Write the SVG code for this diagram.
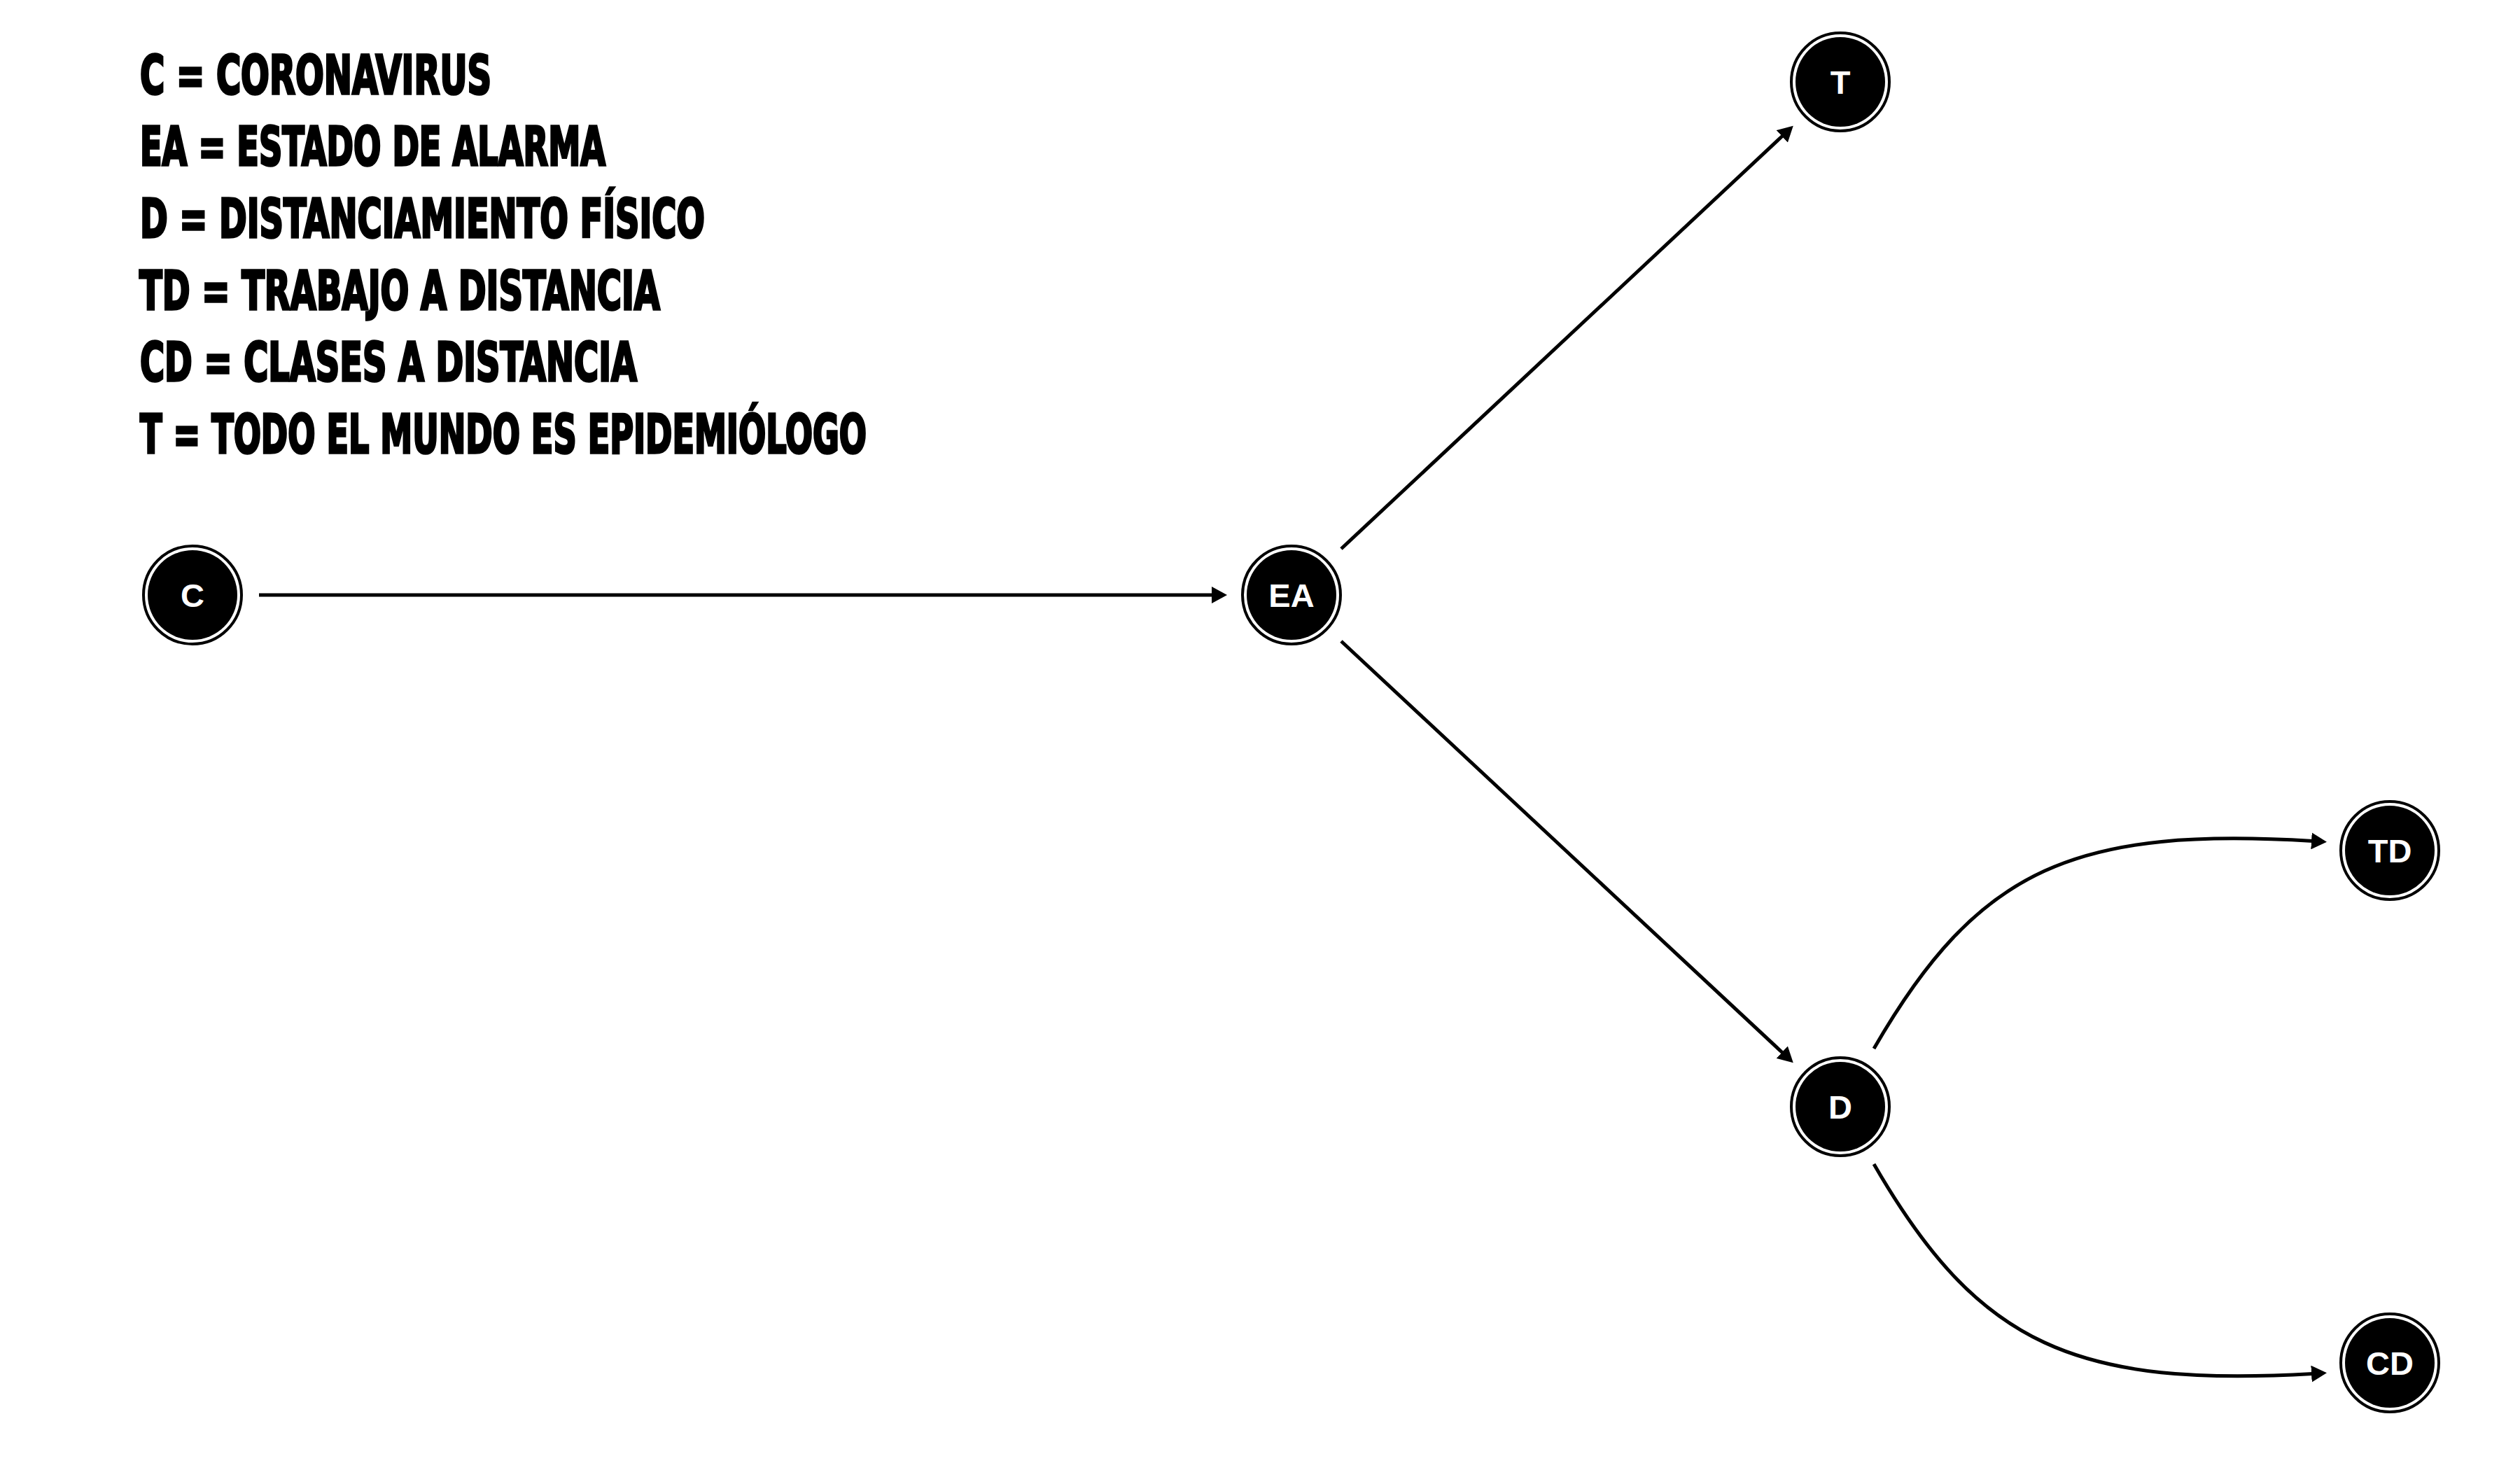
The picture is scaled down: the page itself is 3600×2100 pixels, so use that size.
<svg xmlns="http://www.w3.org/2000/svg" width="3600" height="2100" viewBox="0 0 3600 2100">
<style>
.legend{font-family:"Liberation Sans Narrow","DejaVu Sans Condensed","Liberation Sans",sans-serif;font-weight:bold;font-size:77px;fill:#000;stroke:#000;stroke-width:3.5px;stroke-linejoin:miter}
.ring{fill:none;stroke:#000;stroke-width:4}
.disk{fill:#000}
.lbl{font-family:"Liberation Sans",Arial,sans-serif;font-weight:bold;font-size:47px;fill:#fff;text-anchor:middle}
.edge{fill:none;stroke:#000;stroke-width:5}
</style>
<defs>
<marker id="arr" markerUnits="userSpaceOnUse" markerWidth="24" markerHeight="24" refX="10" refY="12" orient="auto">
<path d="M0,0 L22,12 L0,24 Z" fill="#000"/>
</marker>
</defs>
<rect width="3600" height="2100" fill="#fff"/>
<g id="legend">
<text class="legend" x="200" y="134" textLength="502" lengthAdjust="spacingAndGlyphs">C = CORONAVIRUS</text>
<text class="legend" x="200" y="236" textLength="665" lengthAdjust="spacingAndGlyphs">EA = ESTADO DE ALARMA</text>
<text class="legend" x="200" y="339" textLength="807" lengthAdjust="spacingAndGlyphs">D = DISTANCIAMIENTO FÍSICO</text>
<text class="legend" x="199" y="442" textLength="744" lengthAdjust="spacingAndGlyphs">TD = TRABAJO A DISTANCIA</text>
<text class="legend" x="200" y="544" textLength="710" lengthAdjust="spacingAndGlyphs">CD = CLASES A DISTANCIA</text>
<text class="legend" x="200" y="647" textLength="1038" lengthAdjust="spacingAndGlyphs">T = TODO EL MUNDO ES EPIDEMIÓLOGO</text>
</g>
<g id="connectors">
<path class="edge" d="M370,850 L1741,850" marker-end="url(#arr)"/>
<path class="edge" d="M1916,784 L2553,188" marker-end="url(#arr)"/>
<path class="edge" d="M1916,916 L2553,1510" marker-end="url(#arr)"/>
<path class="edge" d="M2677,1498 C2827,1238 2965,1180 3312,1202" marker-end="url(#arr)"/>
<path class="edge" d="M2677,1663 C2827,1923 2965,1983 3312,1962" marker-end="url(#arr)"/>
</g>
<g id="node-C"><circle class="ring" cx="275" cy="850" r="70"/><circle class="disk" cx="275" cy="850" r="64"/><text class="lbl" x="275" y="867">C</text></g>
<g id="node-EA"><circle class="ring" cx="1845" cy="850" r="70"/><circle class="disk" cx="1845" cy="850" r="64"/><text class="lbl" x="1845" y="867">EA</text></g>
<g id="node-T"><circle class="ring" cx="2629" cy="117" r="70"/><circle class="disk" cx="2629" cy="117" r="64"/><text class="lbl" x="2629" y="134">T</text></g>
<g id="node-D"><circle class="ring" cx="2629" cy="1581" r="70"/><circle class="disk" cx="2629" cy="1581" r="64"/><text class="lbl" x="2629" y="1598">D</text></g>
<g id="node-TD"><circle class="ring" cx="3414" cy="1215" r="70"/><circle class="disk" cx="3414" cy="1215" r="64"/><text class="lbl" x="3414" y="1232">TD</text></g>
<g id="node-CD"><circle class="ring" cx="3414" cy="1947" r="70"/><circle class="disk" cx="3414" cy="1947" r="64"/><text class="lbl" x="3414" y="1964">CD</text></g>
</svg>
